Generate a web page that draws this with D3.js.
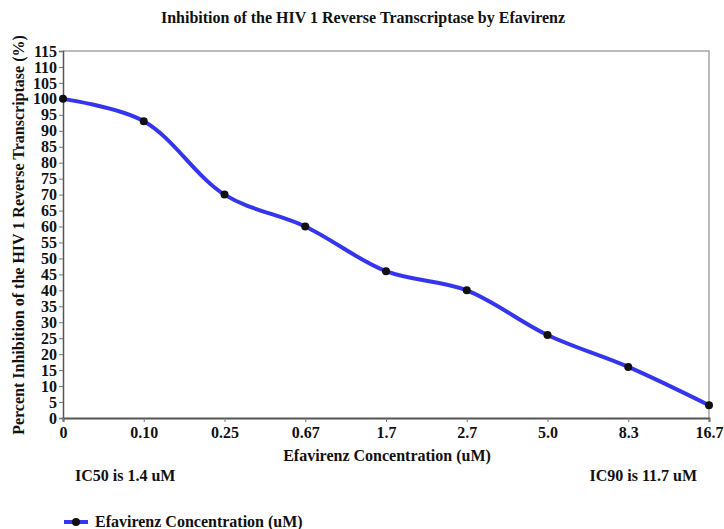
<!DOCTYPE html>
<html>
<head>
<meta charset="utf-8">
<script src="https://cdn.jsdelivr.net/npm/d3@7"></script>
<style>
  body { margin: 0; background: #fff; }
  text { font-family: "Liberation Serif", "Times New Roman", serif; font-weight: bold; fill: #111; }
</style>
</head>
<body>
<div id="chart"></div>
<script>
// data
var concentrations = ["0", "0.10", "0.25", "0.67", "1.7", "2.7", "5.0", "8.3", "16.7"];
var inhibition = [100, 93, 70, 60, 46, 40, 26, 16, 4];
var yTicks = d3.range(0, 116, 5);

var width = 724;
var height = 529;
var margin = {top: 51, right: 15, bottom: 111, left: 63};
var innerW = width - margin.left - margin.right;
var innerH = height - margin.top - margin.bottom;

var svg = d3.select("#chart")
    .append("svg")
    .attr("width", width)
    .attr("height", height);

var g = svg.append("g")
    .attr("transform", "translate(" + margin.left + "," + margin.top + ")");

var x = d3.scalePoint().domain(concentrations).range([0, innerW]);
var y = d3.scaleLinear().domain([0, 115]).range([innerH, 0]);

// plot frame (top and right)
g.append("path")
    .attr("d", "M0,0H" + innerW + "V" + innerH)
    .attr("fill", "none")
    .attr("stroke", "#a6a6a6")
    .attr("stroke-width", 1.5);

// y axis
var yAxis = g.append("g")
    .call(d3.axisLeft(y).tickValues(yTicks).tickSize(4).tickPadding(2));
yAxis.select(".domain").attr("stroke", "#555").attr("stroke-width", 1.5);
yAxis.selectAll(".tick line").attr("stroke", "#777");
yAxis.selectAll("text").style("font-size", "16px").attr("fill", "#111");

// x axis
var xAxis = g.append("g")
    .attr("transform", "translate(0," + innerH + ")")
    .call(d3.axisBottom(x).tickSize(4).tickPadding(5));
xAxis.select(".domain").attr("stroke", "#555").attr("stroke-width", 2);
xAxis.selectAll(".tick line").attr("stroke", "#777");
xAxis.selectAll("text").style("font-size", "16px").attr("fill", "#111");

// line
var pts = concentrations.map(function(c, i){ return {c: c, v: inhibition[i]}; });

var line = d3.line()
    .x(function(d){ return x(d.c); })
    .y(function(d){ return y(d.v); })
    .curve(d3.curveCatmullRom.alpha(0.5));

g.append("path")
    .datum(pts)
    .attr("d", line)
    .attr("fill", "none")
    .attr("stroke", "#3535f0")
    .attr("stroke-width", 4)
    .attr("stroke-linecap", "round");

g.selectAll(".dot")
    .data(pts)
    .enter().append("circle")
    .attr("class", "dot")
    .attr("cx", function(d){ return x(d.c); })
    .attr("cy", function(d){ return y(d.v); })
    .attr("r", 4)
    .attr("fill", "#111");

// titles
svg.append("text")
    .attr("x", 363).attr("y", 23)
    .attr("text-anchor", "middle")
    .style("font-size", "16px")
    .text("Inhibition of the HIV 1 Reverse Transcriptase by Efavirenz");

svg.append("text")
    .attr("transform", "translate(24,235) rotate(-90)")
    .attr("text-anchor", "middle")
    .style("font-size", "16px")
    .text("Percent Inhibition of the HIV 1 Reverse Transcriptase (%)");

svg.append("text")
    .attr("x", 387).attr("y", 461)
    .attr("text-anchor", "middle")
    .style("font-size", "16px")
    .text("Efavirenz Concentration (uM)");

svg.append("text")
    .attr("x", 75).attr("y", 481)
    .style("font-size", "16px")
    .text("IC50 is 1.4 uM");

svg.append("text")
    .attr("x", 697).attr("y", 481)
    .attr("text-anchor", "end")
    .style("font-size", "16px")
    .text("IC90 is 11.7 uM");

// legend
var legend = svg.append("g").attr("transform", "translate(64,522)");
legend.append("line")
    .attr("x1", 0).attr("x2", 24)
    .attr("stroke", "#3535f0").attr("stroke-width", 4);
legend.append("circle").attr("cx", 12).attr("r", 4).attr("fill", "#111");
legend.append("text")
    .attr("x", 31).attr("y", 5)
    .style("font-size", "16px")
    .text("Efavirenz Concentration (uM)");
</script>
</body>
</html>
